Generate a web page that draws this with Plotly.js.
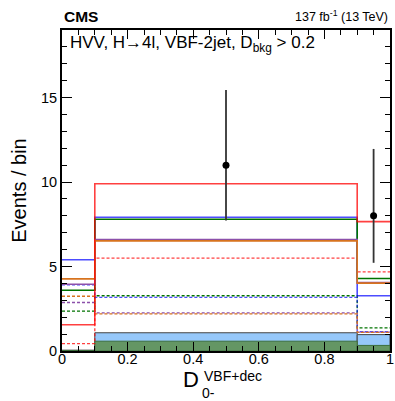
<!DOCTYPE html>
<html>
<head>
<meta charset="utf-8">
<script src="https://cdn.plot.ly/plotly-3.0.1.min.js"></script>
<style>html,body{margin:0;padding:0;background:#fff;}#chart{width:395px;height:401px;}</style>
</head>
<body>
<div id="chart"></div>
<script>
// ---- data ----
const binEdges = [0, 0.1, 0.9, 1.0];

// stacked filled backgrounds (cumulative)
const bkgGreen = [0.03, 0.58, 0.33];
const bkgTotal = [0.05, 1.08, 0.97];

// solid-line hypotheses
const redSolid    = [1.55, 9.90, 7.66];
const blueSolid   = [5.40, 7.92, 3.27];
const greenSolid  = [3.60, 7.80, 4.29];
const purpleSolid = [3.95, 6.60, 4.05];
const orangeSolid = [4.27, 6.52, 4.02];

// dashed-line hypotheses
const redDashed    = [0.44, 5.50, 4.68];
const blueDashed   = [3.92, 3.17, 1.14];
const greenDashed  = [2.36, 3.27, 1.37];
const purpleDashed = [2.87, 2.26, 1.12];
const orangeDashed = [3.24, 2.20, 1.10];

// observed data
const dataX = [0.5, 0.95];
const dataY = [11, 8];
const dataErrUp = [4.45, 3.96];
const dataErrDown = [3.28, 2.78];

const xTickVals = [0, 0.2, 0.4, 0.6, 0.8, 1];
const xTickText = ['0', '0.2', '0.4', '0.6', '0.8', '1'];
const yTickVals = [0, 5, 10, 15];
const yTickText = ['0', '5', '10', '15'];

// ---- helpers ----
const centers = binEdges.slice(0, -1).map((e, i) => (e + binEdges[i + 1]) / 2);
const widths = binEdges.slice(0, -1).map((e, i) => binEdges[i + 1] - e);

function stepTrace(vals, color, dash, width) {
  return {
    type: 'scatter', mode: 'lines',
    x: binEdges,
    y: vals.concat([vals[vals.length - 1]]),
    line: {shape: 'hv', color: color, width: width, dash: dash},
    hoverinfo: 'skip'
  };
}

const RED = 'rgba(255,0,0,0.75)';
const BLUE = 'rgba(0,0,255,0.7)';
const GREEN = 'rgb(0,115,0)';
const PURPLE = 'rgb(140,80,170)';
const ORANGE = 'rgb(215,115,30)';
const DASH = '3px,2px';

const traces = [
  {type: 'bar', x: centers, y: bkgTotal, width: widths,
   marker: {color: 'rgb(150,200,250)', line: {color: '#444', width: 1}}, hoverinfo: 'skip'},
  {type: 'bar', x: centers, y: bkgGreen, width: widths,
   marker: {color: 'rgb(100,150,100)', line: {color: 'rgb(60,110,60)', width: 1}}, hoverinfo: 'skip'},
  stepTrace(redDashed, RED, DASH, 1.3),
  stepTrace(greenDashed, GREEN, DASH, 1.3),
  stepTrace(blueDashed, BLUE, DASH, 1.3),
  stepTrace(purpleDashed, PURPLE, DASH, 1.3),
  stepTrace(orangeDashed, ORANGE, DASH, 1.3),
  stepTrace(blueSolid, BLUE, 'solid', 1.6),
  stepTrace(greenSolid, GREEN, 'solid', 1.6),
  stepTrace(purpleSolid, PURPLE, 'solid', 1.6),
  stepTrace(orangeSolid, ORANGE, 'solid', 1.6),
  stepTrace(redSolid, RED, 'solid', 1.6),
  {type: 'scatter', mode: 'markers', x: dataX, y: dataY,
   marker: {color: 'black', size: 7},
   error_y: {type: 'data', symmetric: false, array: dataErrUp, arrayminus: dataErrDown,
             color: '#333', thickness: 1.8, width: 0},
   hoverinfo: 'skip'}
];

const FONT = 'Liberation Sans, Arial, Helvetica, sans-serif';

const layout = {
  width: 395, height: 401,
  margin: {l: 62, r: 5, t: 30, b: 50},
  paper_bgcolor: 'white', plot_bgcolor: 'white',
  showlegend: false,
  barmode: 'overlay',
  bargap: 0,
  font: {family: FONT, color: 'black', size: 14},
  xaxis: {
    range: [0, 1], tickvals: xTickVals, ticktext: xTickText,
    ticks: 'inside', ticklen: 9, tickwidth: 1, tickcolor: 'black',
    minor: {dtick: 0.05, ticks: 'inside', ticklen: 5, tickcolor: 'black', tickwidth: 1},
    showline: true, linecolor: 'black', linewidth: 2, mirror: 'ticks',
    showgrid: false, zeroline: false,
    ticklabelstandoff: -6,
    tickfont: {family: FONT, size: 14.5}
  },
  yaxis: {
    range: [0, 19], tickvals: yTickVals, ticktext: yTickText,
    ticks: 'inside', ticklen: 10, tickwidth: 1, tickcolor: 'black',
    minor: {dtick: 1, ticks: 'inside', ticklen: 5, tickcolor: 'black', tickwidth: 1},
    showline: true, linecolor: 'black', linewidth: 2, mirror: 'ticks',
    showgrid: false, zeroline: false,
    tickfont: {family: FONT, size: 14.5},
    title: {text: 'Events / bin', font: {family: FONT, size: 20}, standoff: 9}
  },
  annotations: [
    {xref: 'paper', yref: 'paper', x: 0, y: 1.042, xanchor: 'left', yanchor: 'middle',
     text: '<b>CMS</b>', showarrow: false, font: {family: FONT, size: 15.5}},
    {xref: 'paper', yref: 'paper', x: 1, y: 1.045, xanchor: 'right', yanchor: 'middle',
     text: '137 fb<sup>-1</sup> (13 TeV)', showarrow: false, font: {family: FONT, size: 12.5}},
    {xref: 'paper', yref: 'paper', x: 0.018, y: 0.957, xanchor: 'left', yanchor: 'middle',
     text: 'HVV, H\u21924l, VBF-2jet, D<sub>bkg</sub> > 0.2', showarrow: false,
     font: {family: FONT, size: 17}},
    {xref: 'paper', yref: 'paper', x: 0.392, y: -0.09, xanchor: 'center', yanchor: 'middle',
     text: 'D', showarrow: false, font: {family: FONT, size: 22}},
    {xref: 'paper', yref: 'paper', x: 0.427, y: -0.078, xanchor: 'left', yanchor: 'middle',
     text: 'VBF+dec', showarrow: false, font: {family: FONT, size: 14}},
    {xref: 'paper', yref: 'paper', x: 0.42, y: -0.13, xanchor: 'left', yanchor: 'middle',
     text: '0-', showarrow: false, font: {family: FONT, size: 14}}
  ]
};

Plotly.newPlot('chart', traces, layout, {displayModeBar: false, staticPlot: true});
</script>
</body>
</html>
